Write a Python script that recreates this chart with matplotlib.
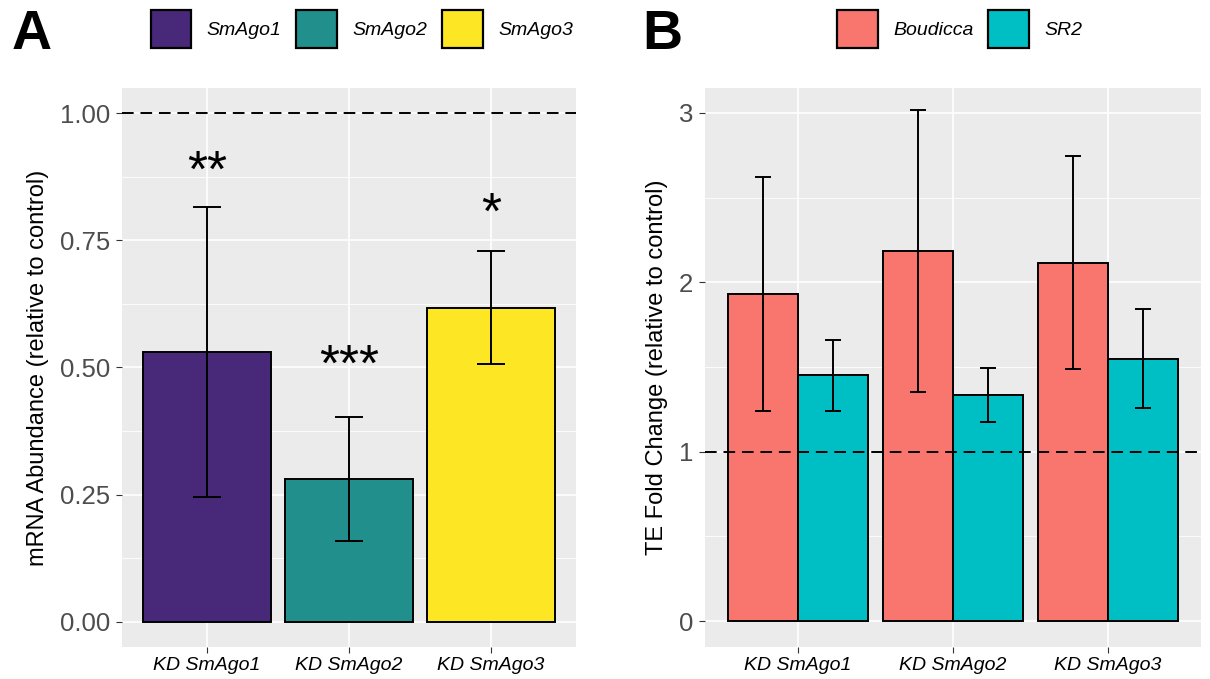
import numpy as np
import matplotlib
matplotlib.use('Agg')
import matplotlib.pyplot as plt
from matplotlib.patches import Patch
from matplotlib.ticker import MultipleLocator

plt.rcParams['font.family'] = ['Liberation Sans', 'DejaVu Sans']

# Panel A data: knockdown efficiency
kd_labels = ['KD SmAgo1', 'KD SmAgo2', 'KD SmAgo3']
ago_names = ['SmAgo1', 'SmAgo2', 'SmAgo3']
ago_colors = ['#482878', '#21908C', '#FDE725']
mrna_mean = [0.53, 0.281, 0.618]
mrna_err = [0.285, 0.122, 0.112]
stars = ['**', '***', '*']
star_y = [0.902, 0.52, 0.819]

# Panel B data: TE fold change
te_names = ['Boudicca', 'SR2']
te_colors = ['#F8766D', '#00BFC4']
boudicca_mean = [1.93, 2.185, 2.116]
boudicca_err = [0.69, 0.83, 0.63]
sr2_mean = [1.45, 1.333, 1.55]
sr2_err = [0.21, 0.16, 0.29]

W, H = 1210, 679
fig = plt.figure(figsize=(W / 100, H / 100), dpi=100)
axA = fig.add_axes([122 / W, 1 - 647 / H, 454 / W, 559 / H])
axB = fig.add_axes([705 / W, 1 - 647 / H, 496 / W, 559 / H])


def style_axis(ax):
    ax.set_facecolor('#EBEBEB')
    for s in ax.spines.values():
        s.set_visible(False)
    ax.grid(True, which='major', color='white', lw=1.2, zorder=0)
    ax.grid(True, which='minor', axis='y', color='white', lw=0.6, zorder=0)
    ax.set_axisbelow(True)
    ax.tick_params(axis='both', which='major', length=4.3, width=0.8, color='#333333')
    ax.tick_params(axis='y', which='minor', length=0)
    ax.tick_params(axis='y', labelsize=18.5, labelcolor='#4D4D4D', pad=4)
    ax.tick_params(axis='x', labelsize=14, labelcolor='black', pad=3)
    for lab in ax.get_xticklabels():
        lab.set_fontstyle('italic')


# ---- Panel A ----
x = np.arange(len(kd_labels))
axA.bar(x, mrna_mean, width=0.9, color=ago_colors, edgecolor='black', lw=1.4, zorder=2)
axA.errorbar(x, mrna_mean, yerr=mrna_err, fmt='none', ecolor='black', elinewidth=1.4,
             capsize=10.4, capthick=1.4, zorder=3)
axA.axhline(1.0, color='black', lw=1.4, ls=(0, (6, 3.5)), zorder=4)
for xi, s, sy in zip(x, stars, star_y):
    axA.annotate(s, (xi, sy), xytext=(0, -17), textcoords='offset points',
                 ha='center', va='baseline', fontsize=37, color='black')
axA.set_xlim(-0.6, 2.6)
axA.set_xticks(x)
axA.set_xticklabels(kd_labels)
axA.yaxis.set_major_locator(MultipleLocator(0.25))
axA.yaxis.set_minor_locator(MultipleLocator(0.125))
axA.set_ylim(-0.05, 1.05)
axA.yaxis.set_major_formatter(lambda v, p: f'{v:.2f}')
style_axis(axA)
axA.set_ylabel('mRNA Abundance (relative to control)', fontsize=17, labelpad=8)

# ---- Panel B ----
xb = np.arange(len(kd_labels))
w = 0.45
axB.bar(xb - w / 2, boudicca_mean, width=w, color=te_colors[0], edgecolor='black', lw=1.4, zorder=2)
axB.bar(xb + w / 2, sr2_mean, width=w, color=te_colors[1], edgecolor='black', lw=1.4, zorder=2)
axB.errorbar(xb - w / 2, boudicca_mean, yerr=boudicca_err, fmt='none', ecolor='black',
             elinewidth=1.4, capsize=5.6, capthick=1.4, zorder=3)
axB.errorbar(xb + w / 2, sr2_mean, yerr=sr2_err, fmt='none', ecolor='black',
             elinewidth=1.4, capsize=5.6, capthick=1.4, zorder=3)
axB.axhline(1.0, color='black', lw=1.4, ls=(0, (6, 3.5)), zorder=4)
axB.set_xlim(-0.6, 2.6)
axB.set_xticks(xb)
axB.set_xticklabels(kd_labels)
axB.yaxis.set_major_locator(MultipleLocator(1))
axB.yaxis.set_minor_locator(MultipleLocator(0.5))
axB.set_ylim(-0.153, 3.147)
style_axis(axB)
axB.set_ylabel('TE Fold Change (relative to control)', fontsize=17, labelpad=8)

# ---- legends ----
leg_kw = dict(loc='center', frameon=False, prop={'size': 14, 'style': 'italic'},
              handlelength=2.1, handleheight=2.7, handletextpad=0.8,
              columnspacing=0.75, borderpad=0)
legA = [Patch(facecolor=c, edgecolor='black', lw=1.6, label=n) for c, n in zip(ago_colors, ago_names)]
fig.legend(handles=legA, bbox_to_anchor=(362 / W, 1 - 29 / H), ncol=3, **leg_kw)
legB = [Patch(facecolor=c, edgecolor='black', lw=1.6, label=n) for c, n in zip(te_colors, te_names)]
fig.legend(handles=legB, bbox_to_anchor=(960 / W, 1 - 29 / H), ncol=2, **leg_kw)

fig.text(12 / W, 1 - 49 / H, 'A', fontsize=40, fontweight='bold', ha='left', va='baseline')
fig.text(642 / W, 1 - 49 / H, 'B', fontsize=40, fontweight='bold', ha='left', va='baseline')

fig.savefig('out.png', dpi=100)
